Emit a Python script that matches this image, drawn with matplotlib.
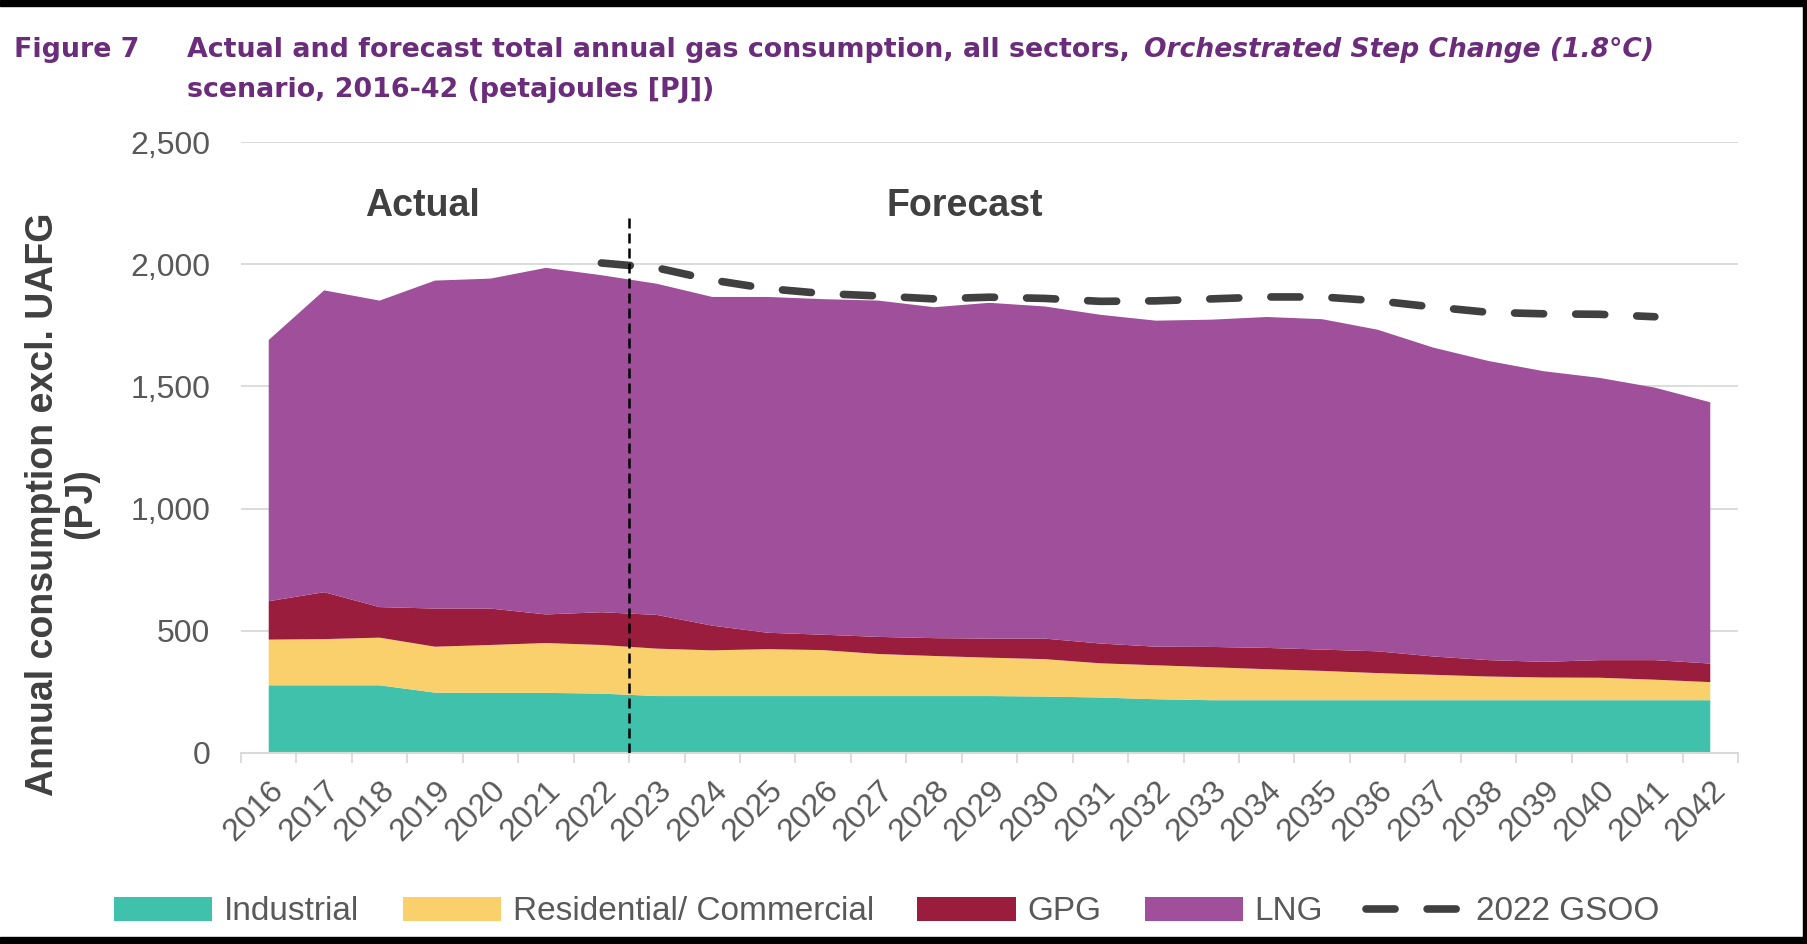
import matplotlib
matplotlib.use('Agg')
import matplotlib.pyplot as plt
from matplotlib.patches import Rectangle, Patch
from matplotlib.lines import Line2D
import numpy as np

# data (PJ)
years = [str(y) for y in range(2016, 2043)]
industrial = [277, 277, 277, 247, 246, 246, 243, 233, 233, 233, 233, 233, 233, 233,
              231, 227, 220, 216, 216, 216, 216, 216, 216, 216, 216, 216, 216]
residential = [187, 189, 195, 188, 196, 204, 199, 194, 187, 192, 188, 172, 164, 157,
               153, 140, 139, 135, 127, 120, 111, 104, 97, 93, 92, 84, 74]
gpg = [157, 192, 125, 156, 149, 117, 134, 138, 101, 67, 63, 70, 73, 78,
       84, 81, 76, 83, 87, 87, 89, 75, 67, 64, 72, 80, 76]
lng = [1069, 1235, 1254, 1342, 1350, 1418, 1379, 1355, 1345, 1374, 1373, 1376, 1354, 1374,
       1359, 1345, 1334, 1339, 1354, 1352, 1316, 1264, 1224, 1189, 1155, 1115, 1069]
gsoo_years = [str(y) for y in range(2022, 2042)]
gsoo = [2005, 1985, 1935, 1900, 1880, 1870, 1858, 1865, 1860, 1848,
        1850, 1858, 1866, 1866, 1850, 1825, 1803, 1797, 1795, 1785]

series_names = ['Industrial', 'Residential/ Commercial', 'GPG', 'LNG']
series_colors = ['#40C1AC', '#F9D06B', '#9B1D3E', '#A04F9A']
title_color = '#6B2D7B'
text_grey = '#404040'
tick_grey = '#595959'
grid_grey = '#D9D9D9'

W, H = 1807, 944
fig = plt.figure(figsize=(W / 100, H / 100), dpi=100)
fig.patch.set_facecolor('white')

ax = fig.add_axes([241 / W, 1 - 753 / H, (1738 - 241) / W, (753 - 142) / H])
x = np.arange(len(years))
ax.stackplot(x, industrial, residential, gpg, lng, colors=series_colors, linewidth=0)

gx = [years.index(y) for y in gsoo_years]
ax.plot(gx, gsoo, color=text_grey, lw=5.5, dashes=(3.8, 4.2), dash_capstyle='round', zorder=4)

# actual / forecast divider
ax.plot([6.5, 6.5], [0, 2200], color='black', lw=1.8, dashes=(4, 2), zorder=5)

ax.set_xlim(-0.5, len(years) - 0.5)
ax.set_ylim(0, 2500)
ax.set_yticks(range(0, 2501, 500))
ax.set_yticklabels([f'{v:,}' for v in range(0, 2501, 500)], family='Liberation Sans')
ax.yaxis.grid(True, color=grid_grey, lw=1.3)
ax.set_axisbelow(True)
for s in ['left', 'top', 'right']:
    ax.spines[s].set_visible(False)
ax.spines['bottom'].set_color(grid_grey)
ax.spines['bottom'].set_linewidth(1.5)
ax.tick_params(axis='y', length=0, labelsize=23, labelcolor=tick_grey, pad=22)

ax.set_xticks(x)
ax.set_xticklabels(years, rotation=45, ha='right', rotation_mode='anchor',
                   family='Liberation Sans')
ax.set_xticks(np.arange(-0.5, len(years), 1.0), minor=True)
ax.tick_params(axis='x', which='major', length=0, labelsize=23, labelcolor=tick_grey, pad=16)
ax.tick_params(axis='x', which='minor', length=7, width=1.3, color=grid_grey)

ax.text(2.77, 2240, 'Actual', fontsize=27, fontweight='bold', color=text_grey,
        family='Liberation Sans', ha='center', va='center')
ax.text(12.55, 2240, 'Forecast', fontsize=27, fontweight='bold', color=text_grey,
        family='Liberation Sans', ha='center', va='center')

fig.text(62 / W, 1 - 504 / H, 'Annual consumption excl. UAFG\n(PJ)', rotation=90,
         fontsize=27, fontweight='bold', color=text_grey, family='Liberation Sans',
         ha='center', va='center', multialignment='center', linespacing=1.1)

# title
tkw = dict(fontsize=19.4, fontweight='bold', color=title_color, family='DejaVu Sans', va='baseline')
fig.text(14 / W, 1 - 57 / H, 'Figure 7', **tkw)
fig.text(187 / W, 1 - 57 / H, 'Actual and forecast total annual gas consumption, all sectors,', **tkw)
fig.text(1144 / W, 1 - 57 / H, 'Orchestrated Step Change (1.8°C)', style='italic',
         **{**tkw, 'fontsize': 19.1})
fig.text(187 / W, 1 - 97 / H, 'scenario, 2016-42 (petajoules [PJ])', **tkw)

# legend
handles = [Patch(facecolor=c, edgecolor='none') for c in series_colors]
handles.append(Line2D([], [], color=text_grey, lw=5.5, dashes=(3.8, 4.2), dash_capstyle='round'))
leg = fig.legend(handles, series_names + ['2022 GSOO'], loc='center',
                 bbox_to_anchor=(887 / W, 1 - 912 / H), ncol=5, frameon=False,
                 prop={'family': 'Liberation Sans', 'size': 24},
                 handlelength=2.95, handleheight=0.7, handletextpad=0.35, columnspacing=1.3)
for t in leg.get_texts():
    t.set_color(tick_grey)

# black frame edges from the screenshot
fig.add_artist(Rectangle((0, 1 - 6 / H), 1, 6 / H, transform=fig.transFigure, color='black'))
fig.add_artist(Rectangle((0, 0), 1, 7 / H, transform=fig.transFigure, color='black'))
fig.add_artist(Rectangle((1 - 4 / W, 0), 4 / W, 1, transform=fig.transFigure, color='black'))

fig.savefig('out.png', dpi=100)
